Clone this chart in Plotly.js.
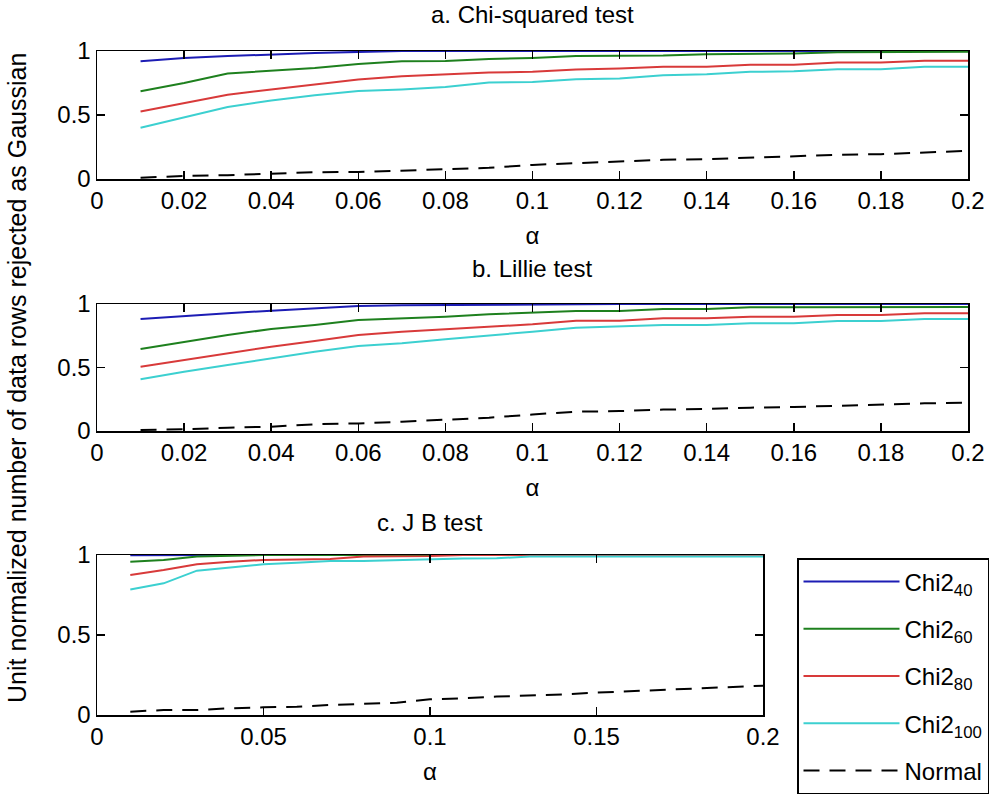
<!DOCTYPE html>
<html>
<head>
<meta charset="utf-8">
<script src="https://cdn.plot.ly/plotly-3.0.1.min.js"></script>
<style>html,body{margin:0;padding:0;background:#fff;}#chart{width:1000px;height:798px;}</style>
</head>
<body>
<div id="chart"></div>
<script>
// alpha values (x)
const alpha = [0.01,0.02,0.03,0.04,0.05,0.06,0.07,0.08,0.09,0.10,0.11,0.12,0.13,0.14,0.15,0.16,0.17,0.18,0.19,0.20];

// a. Chi-squared test
const chiA_40  = [0.92,0.945,0.96,0.975,0.985,0.993,1,1,1,1,1,1,1,1,1,1,1,1,1,1];
const chiA_60  = [0.685,0.75,0.824,0.845,0.868,0.898,0.92,0.922,0.937,0.945,0.96,0.963,0.965,0.975,0.977,0.98,0.99,0.99,0.99,0.995];
const chiA_80  = [0.528,0.596,0.659,0.70,0.737,0.777,0.803,0.816,0.832,0.837,0.855,0.864,0.876,0.876,0.892,0.892,0.911,0.911,0.924,0.924];
const chiA_100 = [0.40,0.483,0.562,0.614,0.654,0.688,0.70,0.719,0.753,0.758,0.78,0.785,0.811,0.819,0.837,0.842,0.858,0.858,0.876,0.876];
const chiA_norm= [0.01,0.024,0.03,0.042,0.053,0.055,0.068,0.076,0.087,0.11,0.124,0.136,0.15,0.155,0.168,0.18,0.189,0.194,0.207,0.22];

// b. Lillie test
const lilB_40  = [0.882,0.906,0.927,0.947,0.966,0.984,0.99,0.993,0.996,0.998,1,1,1,1,1,1,1,1,1,1];
const lilB_60  = [0.646,0.703,0.756,0.803,0.835,0.874,0.887,0.90,0.919,0.934,0.945,0.945,0.96,0.96,0.974,0.974,0.975,0.975,0.976,0.977];
const lilB_80  = [0.506,0.559,0.612,0.664,0.709,0.756,0.782,0.803,0.821,0.84,0.869,0.869,0.887,0.887,0.90,0.90,0.913,0.913,0.927,0.927];
const lilB_100 = [0.407,0.467,0.52,0.572,0.624,0.669,0.69,0.722,0.75,0.782,0.813,0.821,0.835,0.835,0.848,0.848,0.866,0.866,0.882,0.882];
const lilB_norm= [0.008,0.013,0.026,0.034,0.053,0.06,0.073,0.087,0.105,0.13,0.152,0.157,0.169,0.173,0.184,0.189,0.199,0.205,0.218,0.223];

// c. J B test
const jbC_40  = [0.998,1,1,1,1,1,1,1,1,1,1,1,1,1,1,1,1,1,1,1];
const jbC_60  = [0.958,0.969,0.99,0.995,1,1,1,1,1,1,1,1,1,1,1,1,1,1,1,1];
const jbC_80  = [0.875,0.906,0.942,0.958,0.969,0.973,0.975,0.99,0.99,0.993,1,1,1,1,1,1,1,1,1,1];
const jbC_100 = [0.785,0.823,0.902,0.923,0.942,0.952,0.962,0.963,0.969,0.975,0.978,0.98,0.99,0.99,0.99,0.99,0.99,0.99,0.99,0.99];
const jbC_norm= [0.021,0.031,0.031,0.042,0.048,0.052,0.0625,0.07,0.077,0.098,0.104,0.115,0.121,0.129,0.14,0.149,0.156,0.163,0.174,0.183];

const seriesNames = ['Chi2<sub>40</sub>','Chi2<sub>60</sub>','Chi2<sub>80</sub>','Chi2<sub>100</sub>','Normal'];
const colors = ['#1c1cb4','#1e801e','#d83a3a','#3cd0d0','#000000'];

const panels = [
  {data:[chiA_40,chiA_60,chiA_80,chiA_100,chiA_norm], xa:'x', ya:'y'},
  {data:[lilB_40,lilB_60,lilB_80,lilB_100,lilB_norm], xa:'x2', ya:'y2'},
  {data:[jbC_40,jbC_60,jbC_80,jbC_100,jbC_norm], xa:'x3', ya:'y3'}
];

const traces = [];
panels.forEach((p, pi) => {
  p.data.forEach((vals, si) => {
    traces.push({
      x: alpha, y: vals, xaxis: p.xa, yaxis: p.ya,
      type: 'scatter', mode: 'lines',
      name: seriesNames[si],
      legendgroup: 'g' + si,
      showlegend: pi === 2,
      line: {color: colors[si], width: 2, dash: si === 4 ? '16px,10px' : 'solid'},
      hoverinfo: 'skip'
    });
  });
});

const FONT = 'Liberation Sans, Arial, sans-serif';
function xAxis(domain, dtick, anchor) {
  return {
    domain: domain, range: [0, 0.2], dtick: dtick, tick0: 0, anchor: anchor,
    showline: true, linecolor: '#000', linewidth: 1.5, mirror: 'ticks',
    ticks: 'inside', ticklen: 8, tickwidth: 1.5, tickcolor: '#000',
    showgrid: false, zeroline: false,
    tickfont: {family: FONT, size: 24, color: '#000'},
    title: {text: 'α', font: {family: FONT, size: 24, color: '#000'}, standoff: 14},
    automargin: false
  };
}
function yAxis(domain, anchor) {
  return {
    domain: domain, range: [0, 1], dtick: 0.5, tick0: 0, anchor: anchor,
    showline: true, linecolor: '#000', linewidth: 1.5, mirror: 'ticks',
    ticks: 'inside', ticklen: 8, tickwidth: 1.5, tickcolor: '#000',
    showgrid: false, zeroline: false,
    tickfont: {family: FONT, size: 24, color: '#000'},
    automargin: false
  };
}

const H = 798, W = 1000;
const py = v => 1 - v / H;
const px = v => v / W;

const layout = {
  width: W, height: H,
  margin: {l: 0, r: 0, t: 0, b: 0},
  paper_bgcolor: '#fff', plot_bgcolor: '#fff',
  showlegend: true,
  font: {family: FONT, size: 24, color: '#000'},
  xaxis:  xAxis([px(97), px(968)], 0.02, 'y'),
  yaxis:  yAxis([py(179), py(51)], 'x'),
  xaxis2: xAxis([px(97), px(968)], 0.02, 'y2'),
  yaxis2: yAxis([py(431), py(304)], 'x2'),
  xaxis3: xAxis([px(97), px(763)], 0.05, 'y3'),
  yaxis3: yAxis([py(715), py(555)], 'x3'),
  legend: {
    x: px(797), y: py(558), xanchor: 'left', yanchor: 'top',
    bordercolor: '#000', borderwidth: 1.5, bgcolor: '#fff',
    font: {family: FONT, size: 24, color: '#000'},
    traceorder: 'grouped', tracegroupgap: 13,
    itemwidth: 96, entrywidth: 220
  },
  annotations: [
    {text: 'a. Chi-squared test', xref: 'paper', yref: 'paper', x: px(532), y: py(14), xanchor: 'center', yanchor: 'middle', showarrow: false, font: {family: FONT, size: 24, color: '#000'}},
    {text: 'b. Lillie test', xref: 'paper', yref: 'paper', x: px(532), y: py(268), xanchor: 'center', yanchor: 'middle', showarrow: false, font: {family: FONT, size: 24, color: '#000'}},
    {text: 'c. J B test', xref: 'paper', yref: 'paper', x: px(430), y: py(522), xanchor: 'center', yanchor: 'middle', showarrow: false, font: {family: FONT, size: 24, color: '#000'}},
    {text: 'Unit normalized number of data rows rejected as Gaussian', xref: 'paper', yref: 'paper', x: px(17), y: py(378), xanchor: 'center', yanchor: 'middle', textangle: -90, showarrow: false, font: {family: FONT, size: 25, color: '#000'}}
  ]
};

Plotly.newPlot('chart', traces, layout, {staticPlot: true, displayModeBar: false});
</script>
</body>
</html>
